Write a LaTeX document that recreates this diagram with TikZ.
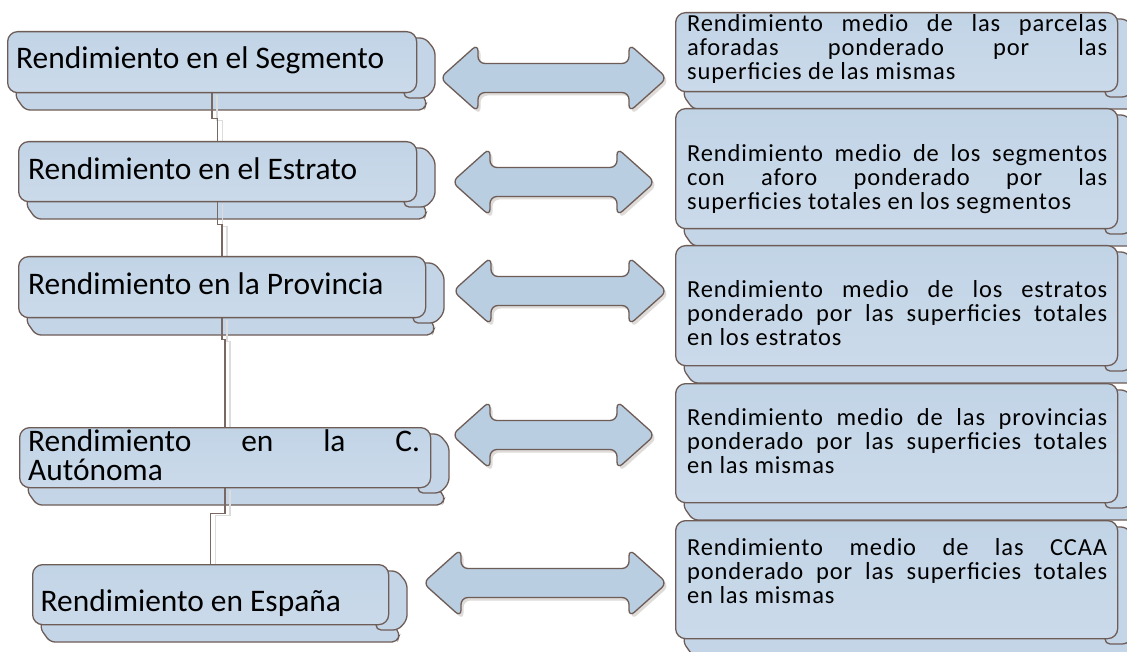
\documentclass[tikz,border=0pt]{standalone}
\usepackage{fontspec}
\setmainfont{Carlito}
\newfontfamily\rfontfam[LetterSpace=3.5]{Carlito}
\usetikzlibrary{calc}
\definecolor{boxline}{HTML}{6E5C57}
\definecolor{boxtop}{HTML}{C1D4E6}
\definecolor{boxbot}{HTML}{CBDAEA}
\definecolor{tabfill}{HTML}{C3D5E7}
\definecolor{arrfill}{HTML}{BACEE1}
\definecolor{connline}{HTML}{7A6862}
\definecolor{connshadow}{HTML}{DCDCDC}
\definecolor{arrshadow}{HTML}{DEDBD9}
\pgfdeclarelayer{back}
\pgfdeclarelayer{links}
\pgfsetlayers{back,links,main}
\newcommand{\leftfont}{\fontsize{31.4}{29}\selectfont}
\newcommand{\rightfont}{\rfontfam\fontsize{24.5}{24}\selectfont}
% justified paragraph box: #1 width, #2 first-line height, #3 text
\newcommand{\justpar}[3]{\parbox[t]{#1}{\hyphenpenalty=10000 \exhyphenpenalty=10000 \tolerance=10000 \pretolerance=-1 \vrule height #2 depth 0pt width 0pt\relax #3\par}}
\tikzset{
 mainbox/.style={draw=boxline, line width=1.3pt, rounded corners=10pt, top color=boxtop, bottom color=boxbot, inner sep=0pt, anchor=north west},
 tabshape/.style={draw=boxline, line width=1.3pt, rounded corners=5pt, fill=tabfill},
 ltext/.style={anchor=base west, inner sep=0pt, font=\leftfont},
 ltextwrap/.style={anchor=north west, inner sep=0pt, font=\leftfont},
 rtext/.style={anchor=north west, inner sep=0pt, font=\rightfont},
 conn/.style={draw=connline, line width=1.5pt, preaction={draw=connshadow, line width=1.5pt, transform canvas={xshift=5pt, yshift=-2pt}}},
 dblarrowshape/.style={draw=boxline, line width=1.3pt, rounded corners=7pt, fill=arrfill, preaction={fill=arrshadow, transform canvas={xshift=2.5pt, yshift=-3pt}}},
}
% #1 name, #2 x1, #3 y1, #4 x2, #5 y2, #6 bottom tab right extension
\newcommand{\stackbox}[6]{%
  \begin{pgfonlayer}{back}
  \draw[tabshape] (#2+12,#5-8) -- (#4-4,#5-8) -- (#4+#6,#5+9) -- (#4+#6-3,#5+18) -- (#2+18,#5+18) -- (#2+8,#5+4) -- cycle;
  \draw[tabshape] (#4-12,#3+7) -- (#4+9,#3+7) -- (#4+19,#3+19) -- (#4+19,#5-4) -- (#4+10,#5+6) -- (#4-12,#5+6) -- cycle;
  \end{pgfonlayer}
  \node[mainbox, minimum width={#4-#2}, minimum height={#5-#3}] (#1) at (#2,#3) {};
}
% #1 name, #2 left tip x, #3 right tip x, #4 centre y
\newcommand{\dblarrow}[4]{%
  \coordinate (#1a) at (#2,#4);
  \coordinate (#1b) at (#3,#4);
  \draw[dblarrowshape] ($(#1a)!0.5!(#1b)+(0,-14.5)$) -- ($(#1b)+(-38,-14.5)$) -- ($(#1b)+(-38,-34)$) -- (#1b) -- ($(#1b)+(-38,34)$) -- ($(#1b)+(-38,14.5)$) -- ($(#1a)+(38,14.5)$) -- ($(#1a)+(38,34)$) -- (#1a) -- ($(#1a)+(38,-34)$) -- ($(#1a)+(38,-14.5)$) -- cycle;
}
\begin{document}
\begin{tikzpicture}[x=1pt,y=-1pt]
\useasboundingbox (0,0) rectangle (1127,652);
\begin{pgfonlayer}{back}
\fill[white] (0,0) rectangle (1127,652);
\end{pgfonlayer}

% left column
\stackbox{L1}{7}{31}{416}{92}{11}
\stackbox{L2}{18}{141}{416}{201}{11}
\stackbox{L3}{18}{256}{425}{317}{10}
\stackbox{L4}{19}{427}{430}{487}{15}
\stackbox{L5}{32}{564}{388}{624}{12}

% right column
\stackbox{R1}{675}{12}{1117}{91}{40}
\stackbox{R2}{675}{108}{1117}{228}{40}
\stackbox{R3}{675}{245}{1117}{365}{40}
\stackbox{R4}{675}{383}{1117}{502}{40}
\stackbox{R5}{675}{520}{1117}{638}{40}

% left texts
\node[ltext] (L1t) at (16,69) {Rendimiento en el Segmento};
\node[ltext] (L2t) at (28,179.3) {Rendimiento en el Estrato};
\node[ltext] (L3t) at (28,295) {Rendimiento en la Provincia};
\node[ltextwrap] (L4t) at (28,427.5) {\justpar{392pt}{24pt}{Rendimiento en la C.\linebreak Autónoma}};
\node[ltext] (L5t) at (40.5,611.5) {Rendimiento en España};

% right texts
\node[rtext] (R1t) at (687,11.6) {\justpar{420pt}{20pt}{Rendimiento medio de las parcelas\linebreak aforadas ponderado por las\linebreak superficies de las mismas}};
\node[rtext] (R2t) at (687,141.7) {\justpar{420pt}{20pt}{Rendimiento medio de los segmentos\linebreak con aforo ponderado por las\linebreak superficies totales en los segmentos}};
\node[rtext] (R3t) at (687,277.3) {\justpar{420pt}{20pt}{Rendimiento medio de los estratos\linebreak ponderado por las superficies totales\linebreak en los estratos}};
\node[rtext] (R4t) at (687,405) {\justpar{420pt}{20pt}{Rendimiento medio de las provincias\linebreak ponderado por las superficies totales\linebreak en las mismas}};
\node[rtext] (R5t) at (687,535) {\justpar{420pt}{20pt}{Rendimiento medio de las CCAA\linebreak ponderado por las superficies totales\linebreak en las mismas}};

% connectors
\begin{pgfonlayer}{links}
\draw[conn] (L1.south) -- ++(0,25) -| (L2.north);
\draw[conn] (L2.south) -- ++(0,22) -| (L3.north);
\draw[conn] (L3.south) -- ++(0,21) -| (L4.north);
\draw[conn] (L4.south) -- ++(0,25) -| (L5.north);
\end{pgfonlayer}

% double arrows
\dblarrow{A1}{440}{667}{78}
\dblarrow{A2}{452}{655}{182}
\dblarrow{A3}{453}{667}{291}
\dblarrow{A4}{452}{655}{435}
\dblarrow{A5}{423}{667}{583}
\end{tikzpicture}
\end{document}
